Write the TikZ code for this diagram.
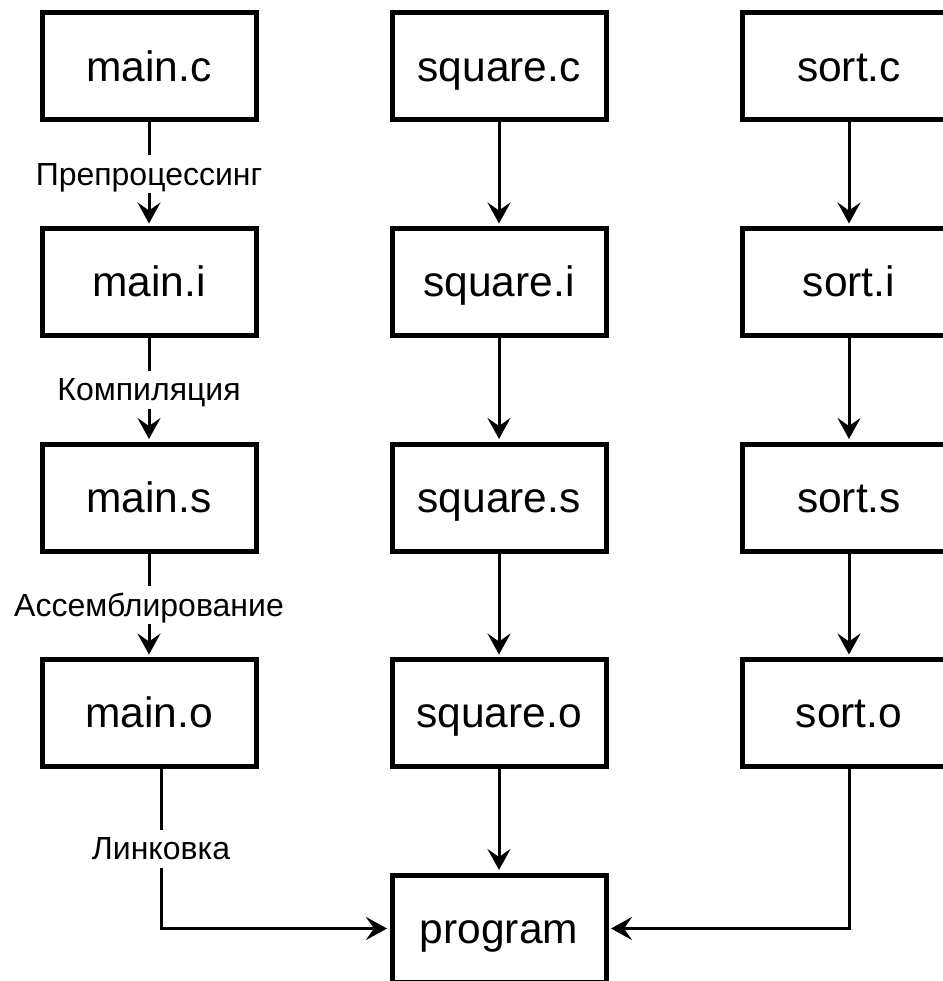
\documentclass[tikz,border=0pt]{standalone}
\usepackage{fontspec}
\setmainfont{Liberation Sans}
\usetikzlibrary{arrows.meta}
\begin{document}
\begin{tikzpicture}[x=1pt,y=-1pt,
  filebox/.style={draw,line width=5pt,minimum width=214pt,minimum height=107pt,inner sep=0pt,
    text height=38.5pt,text depth=9pt,font=\fontsize{42.5}{50}\selectfont},
  flow/.style={line width=3pt,shorten >=2.5pt,-{Stealth[length=21pt,width=23pt,inset=8pt]}},
  steplabel/.style={fill=white,inner sep=1pt,text height=29pt,text depth=7pt,
    font=\fontsize{32}{38}\selectfont}]
\useasboundingbox (0,0) rectangle (942,981);
% main column
\node[filebox] (mc) at (149,66.5) {main.c};
\node[filebox] (mi) at (149,282) {main.i};
\node[filebox] (ms) at (149,497.5) {main.s};
\node[filebox] (mo) at (149,713) {main.o};
% square column
\node[filebox] (qc) at (499,66.5) {square.c};
\node[filebox] (qi) at (499,282) {square.i};
\node[filebox] (qs) at (499,497.5) {square.s};
\node[filebox] (qo) at (499,713) {square.o};
% sort column
\node[filebox] (sc) at (849,66.5) {sort.c};
\node[filebox] (si) at (849,282) {sort.i};
\node[filebox] (ss) at (849,497.5) {sort.s};
\node[filebox] (so) at (849,713) {sort.o};
% program
\node[filebox] (prog) at (499,928.5) {program};
% main arrows with labels
\draw[flow] (mc) -- node[steplabel] {Препроцессинг} (mi);
\draw[flow] (mi) -- node[steplabel] {Компиляция} (ms);
\draw[flow] (ms) -- node[steplabel] {Ассемблирование} (mo);
% square arrows
\draw[flow] (qc) -- (qi);
\draw[flow] (qi) -- (qs);
\draw[flow] (qs) -- (qo);
\draw[flow] (qo) -- (prog);
% sort arrows
\draw[flow] (sc) -- (si);
\draw[flow] (si) -- (ss);
\draw[flow] (ss) -- (so);
\draw[flow] (so) |- (prog);
% linking
\coordinate (lk) at ([xshift=12pt]mo.south);
\draw[flow] (lk) |- node[steplabel,pos=0.25] {Линковка} (prog);
\end{tikzpicture}
\end{document}
